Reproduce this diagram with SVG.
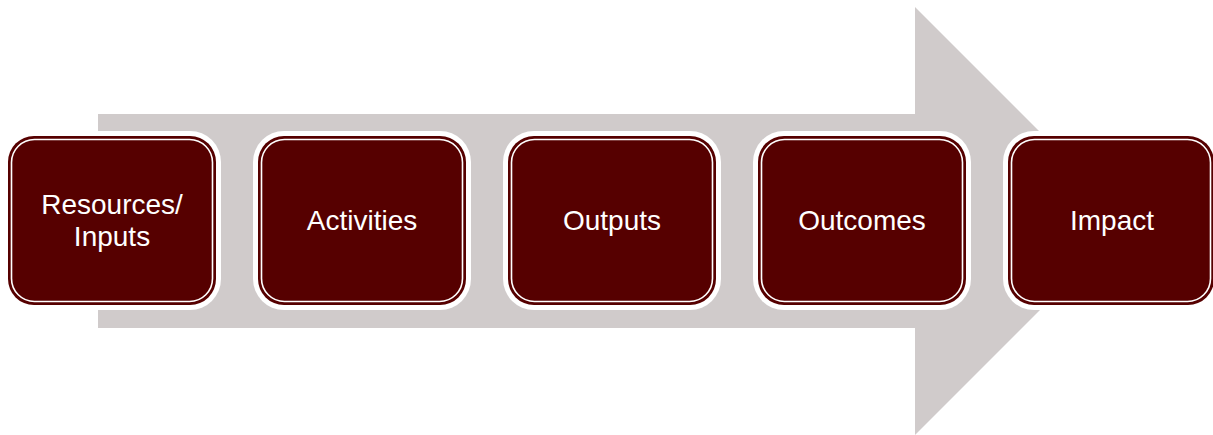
<svg xmlns="http://www.w3.org/2000/svg" width="1213" height="435" viewBox="0 0 1213 435">
<style>
.halo{fill:#ffffff}
.box{fill:#560000}
.inner{fill:none;stroke:#ffffff;stroke-width:1.6}
.lbl{font-family:"Liberation Sans",Arial,sans-serif;font-size:28px;fill:#ffffff;text-anchor:middle}
</style>
<rect width="1213" height="435" fill="#ffffff"/>
<g id="connectors">
<polygon points="98,114 915,114 915,7 1129,221 915,435 915,328 98,328" fill="#d0cbcb"/>
</g>
<g id="node1">
<rect class="halo" x="3" y="131" width="218" height="179" rx="31"/>
<rect class="box" x="8" y="136" width="208" height="169" rx="26"/>
<rect class="inner" x="11.5" y="139.5" width="201" height="162" rx="23"/>
<text class="lbl" x="112" y="214">Resources/</text>
<text class="lbl" x="112" y="246">Inputs</text>
</g>
<g id="node2">
<rect class="halo" x="253" y="131" width="218" height="179" rx="31"/>
<rect class="box" x="258" y="136" width="208" height="169" rx="26"/>
<rect class="inner" x="261.5" y="139.5" width="201" height="162" rx="23"/>
<text class="lbl" x="362" y="229.5">Activities</text>
</g>
<g id="node3">
<rect class="halo" x="503" y="131" width="218" height="179" rx="31"/>
<rect class="box" x="508" y="136" width="208" height="169" rx="26"/>
<rect class="inner" x="511.5" y="139.5" width="201" height="162" rx="23"/>
<text class="lbl" x="612" y="229.5">Outputs</text>
</g>
<g id="node4">
<rect class="halo" x="753" y="131" width="218" height="179" rx="31"/>
<rect class="box" x="758" y="136" width="208" height="169" rx="26"/>
<rect class="inner" x="761.5" y="139.5" width="201" height="162" rx="23"/>
<text class="lbl" x="862" y="229.5">Outcomes</text>
</g>
<g id="node5">
<rect class="halo" x="1003" y="131" width="218" height="179" rx="31"/>
<rect class="box" x="1008" y="136" width="206" height="169" rx="26"/>
<rect class="inner" x="1011.5" y="139.5" width="199" height="162" rx="23"/>
<text class="lbl" x="1112" y="229.5">Impact</text>
</g>
</svg>
